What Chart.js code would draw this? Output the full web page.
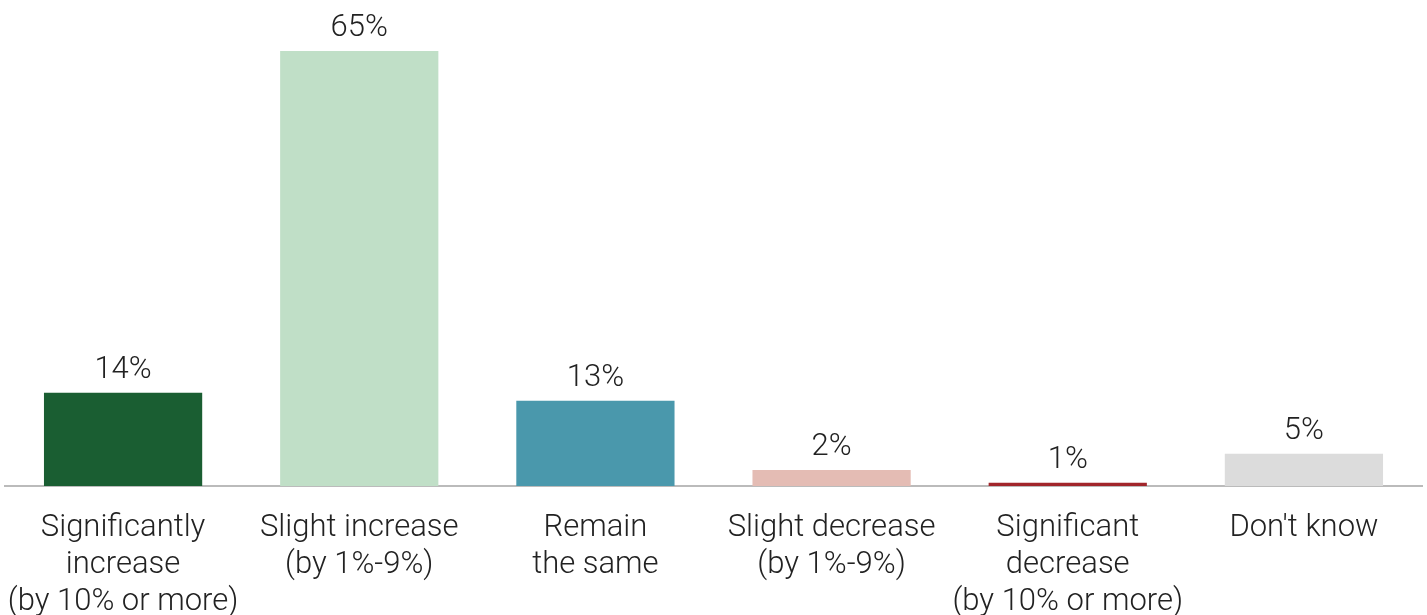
<!DOCTYPE html>
<html>
<head>
<meta charset="utf-8">
<script src="https://cdn.jsdelivr.net/npm/chart.js@4.4.0/dist/chart.umd.min.js"></script>
<style>
html,body{margin:0;padding:0;background:#fff;}
#wrap{width:1427px;height:615px;position:relative;}
</style>
</head>
<body>
<div id="wrap"><canvas id="c"></canvas></div>
<script>
const categories = [
  ["Significantly", "increase", "(by 10% or more)"],
  ["Slight increase", "(by 1%-9%)"],
  ["Remain", "the same"],
  ["Slight decrease", "(by 1%-9%)"],
  ["Significant", "decrease", "(by 10% or more)"],
  ["Don't know"]
];
const values = [13.9, 64.8, 12.7, 2.4, 0.5, 4.8];
const valueLabels = ["14%", "65%", "13%", "2%", "1%", "5%"];
const barColors = ["#1a5e32", "#c0dfc7", "#4a98ac", "#e4bcb4", "#a1262b", "#dcdcdc"];

const FONT = "Roboto";

const topLabels = {
  id: 'topLabels',
  afterDatasetsDraw(chart) {
    const ctx = chart.ctx;
    const meta = chart.getDatasetMeta(0);
    ctx.save();
    ctx.font = "300 31px " + FONT;
    ctx.fillStyle = "#222";
    ctx.textAlign = "center";
    ctx.textBaseline = "alphabetic";
    meta.data.forEach((bar, i) => {
      ctx.fillText(valueLabels[i], bar.x, bar.y - 15);
    });
    ctx.restore();
  }
};

new Chart(document.getElementById('c'), {
  type: 'bar',
  data: {
    labels: categories,
    datasets: [{
      data: values,
      backgroundColor: barColors,
      borderWidth: 0,
      barPercentage: 0.67,
      categoryPercentage: 1.0
    }]
  },
  options: {
    responsive: true,
    maintainAspectRatio: false,
    animation: false,
    layout: { padding: { left: 5, right: 5, top: 0, bottom: 0 } },
    plugins: { legend: { display: false }, tooltip: { enabled: false } },
    scales: {
      x: {
        grid: { display: false, drawTicks: false },
        border: { display: true, color: "#bbbbbb", width: 2 },
        ticks: {
          color: "#222",
          font: { family: FONT, size: 31, weight: 300, lineHeight: 1.19 },
          padding: 24,
          maxRotation: 0,
          autoSkip: false
        },
        afterFit(scale) {
          scale.height = 129;
          scale.paddingLeft = 0;
          scale.paddingRight = 0;
        }
      },
      y: {
        display: false,
        min: 0,
        max: 72.4
      }
    }
  },
  plugins: [topLabels]
});
</script>
</body>
</html>
